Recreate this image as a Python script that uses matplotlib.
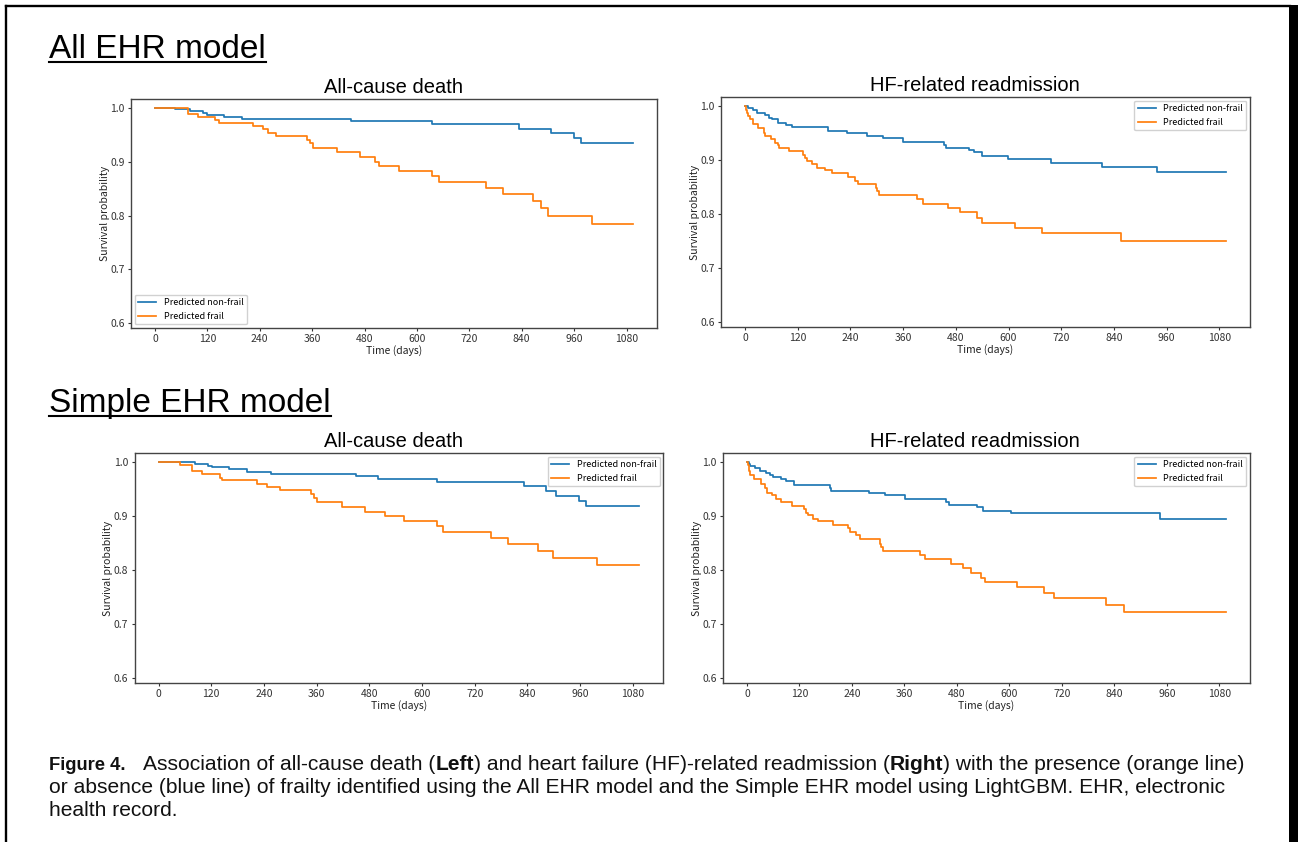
import matplotlib
matplotlib.use("Agg")
import matplotlib.pyplot as plt
from matplotlib.lines import Line2D
from matplotlib.patches import Rectangle
from matplotlib.offsetbox import TextArea, HPacker, AnnotationBbox

# ---------------- data ----------------
xticks_days = [0, 120, 240, 360, 480, 600, 720, 840, 960, 1080]
yticks_prob = [0.6, 0.7, 0.8, 0.9, 1.0]
series_labels = ["Predicted non-frail", "Predicted frail"]
panel_titles = ["All-cause death", "HF-related readmission"]
section_titles = ["All EHR model", "Simple EHR model"]

# All EHR model - all-cause death
all_death_nonfrail_t = [0, 47, 80, 110, 120, 158, 200, 450, 635, 833, 908, 959, 976, 1095]
all_death_nonfrail_s = [1.0, 0.997, 0.994, 0.991, 0.987, 0.983, 0.979, 0.975, 0.970, 0.961, 0.953, 0.944, 0.935, 0.935]
all_death_frail_t = [0, 75, 99, 138, 146, 225, 247, 258, 278, 349, 355, 361, 417, 469, 503, 514, 560, 635, 651,
                     759, 798, 866, 884, 901, 1001, 1095]
all_death_frail_s = [1.0, 0.989, 0.983, 0.977, 0.972, 0.966, 0.960, 0.954, 0.947, 0.940, 0.934, 0.926, 0.918, 0.909,
                     0.900, 0.892, 0.883, 0.873, 0.862, 0.852, 0.840, 0.827, 0.814, 0.800, 0.785, 0.785]

# All EHR model - HF-related readmission
all_readm_nonfrail_t = [0, 6, 18, 28, 46, 55, 61, 75, 94, 108, 189, 232, 278, 313, 360, 452, 457, 509, 522, 539,
                        598, 696, 813, 938, 1095]
all_readm_nonfrail_s = [1.0, 0.997, 0.993, 0.987, 0.983, 0.978, 0.975, 0.969, 0.965, 0.961, 0.954, 0.950, 0.945,
                        0.941, 0.933, 0.928, 0.923, 0.919, 0.914, 0.907, 0.902, 0.895, 0.887, 0.878, 0.878]
all_readm_frail_t = [0, 2, 4, 7, 12, 18, 30, 44, 46, 59, 69, 75, 77, 99, 132, 136, 140, 152, 164, 181, 199, 234,
                     250, 258, 299, 301, 304, 392, 405, 463, 490, 529, 539, 614, 676, 855, 1095]
all_readm_frail_s = [1.0, 0.993, 0.987, 0.981, 0.975, 0.967, 0.959, 0.950, 0.944, 0.938, 0.932, 0.927, 0.922,
                     0.916, 0.910, 0.903, 0.898, 0.892, 0.886, 0.881, 0.875, 0.869, 0.862, 0.855, 0.849, 0.843,
                     0.835, 0.828, 0.819, 0.812, 0.803, 0.793, 0.784, 0.775, 0.764, 0.750, 0.750]

# Simple EHR model - all-cause death
simple_death_nonfrail_t = [0, 84, 112, 122, 160, 202, 257, 450, 500, 635, 831, 882, 905, 958, 973, 1095]
simple_death_nonfrail_s = [1.0, 0.996, 0.993, 0.990, 0.986, 0.982, 0.978, 0.974, 0.969, 0.962, 0.955, 0.946,
                           0.937, 0.928, 0.918, 0.918]
simple_death_frail_t = [0, 49, 76, 99, 139, 145, 225, 246, 276, 348, 353, 360, 418, 470, 515, 559, 635, 647, 757,
                        796, 865, 899, 998, 1095]
simple_death_frail_s = [1.0, 0.994, 0.984, 0.977, 0.970, 0.966, 0.959, 0.953, 0.948, 0.940, 0.933, 0.925, 0.917,
                        0.908, 0.900, 0.890, 0.881, 0.871, 0.860, 0.849, 0.836, 0.823, 0.809, 0.809]

# Simple EHR model - HF-related readmission
simple_readm_nonfrail_t = [0, 4, 8, 18, 29, 44, 53, 60, 78, 90, 107, 189, 193, 279, 316, 361, 454, 462, 526, 540,
                           604, 945, 1095]
simple_readm_nonfrail_s = [1.0, 0.997, 0.993, 0.989, 0.984, 0.980, 0.975, 0.972, 0.968, 0.964, 0.958, 0.952,
                           0.947, 0.943, 0.939, 0.931, 0.926, 0.921, 0.916, 0.910, 0.905, 0.895, 0.895]
simple_readm_frail_t = [0, 2, 4, 8, 16, 31, 41, 45, 57, 67, 78, 103, 131, 136, 140, 152, 163, 197, 232, 236, 249,
                        259, 304, 306, 310, 396, 408, 466, 493, 513, 534, 544, 618, 680, 701, 820, 862, 1095]
simple_readm_frail_s = [1.0, 0.994, 0.983, 0.975, 0.968, 0.960, 0.952, 0.943, 0.938, 0.932, 0.926, 0.919, 0.913,
                        0.906, 0.901, 0.895, 0.890, 0.884, 0.878, 0.870, 0.864, 0.857, 0.849, 0.842, 0.836, 0.828,
                        0.820, 0.812, 0.803, 0.795, 0.786, 0.777, 0.768, 0.758, 0.748, 0.735, 0.722, 0.722]

# ---------------- figure ----------------
W, H = 1298, 842
fig = plt.figure(figsize=(W / 100, H / 100), dpi=100)
fig.patch.set_facecolor("white")

TICKFONT = ["Noto Sans CJK JP", "DejaVu Sans"]
SANS = ["Liberation Sans", "DejaVu Sans"]
BLUE = "#1f77b4"
ORANGE = "#ff7f0e"


def px_axes(left, top, right, bottom):
    return fig.add_axes([left / W, 1 - bottom / H, (right - left) / W, (bottom - top) / H])


def draw_panel(ax, title, title_xpx, nf_t, nf_s, fr_t, fr_s, legend_loc):
    ax.step(nf_t, nf_s, where="post", color=BLUE, lw=1.25, label=series_labels[0])
    ax.step(fr_t, fr_s, where="post", color=ORANGE, lw=1.25, label=series_labels[1])
    ax.margins(x=0.05)
    ax.set_ylim(0.591, 1.0165)
    ax.set_xticks(xticks_days)
    ax.set_yticks(yticks_prob)
    ax.set_yticklabels([f"{v:.1f}" for v in yticks_prob])
    ax.tick_params(axis="both", labelsize=7.5, length=2.5, width=0.8, pad=2.0, colors="#333333")
    for lab in ax.get_xticklabels() + ax.get_yticklabels():
        lab.set_fontfamily(TICKFONT)
    for sp in ax.spines.values():
        sp.set_color("#444444")
        sp.set_linewidth(1.0)
    ax.set_xlabel("Time (days)", fontsize=7.5, family=TICKFONT, labelpad=0.5, color="#222222")
    ax.set_ylabel("Survival probability", fontsize=7.5, family=TICKFONT, labelpad=0.5, color="#222222")
    t = ax.set_title(title, fontsize=14.5, family=SANS, pad=4)
    pos = ax.get_position()
    t.set_x((title_xpx / W - pos.x0) / pos.width)
    ax.legend(loc=legend_loc, prop={"family": TICKFONT, "size": 6.5}, framealpha=0.9,
              edgecolor="#cccccc", fancybox=True, borderaxespad=0.4)


ax1 = px_axes(131, 99, 657, 328)
ax2 = px_axes(721, 97, 1250, 327)
ax3 = px_axes(134.5, 453, 663.5, 683)
ax4 = px_axes(723, 453, 1250, 683)

draw_panel(ax1, panel_titles[0], 393, all_death_nonfrail_t, all_death_nonfrail_s,
           all_death_frail_t, all_death_frail_s, "lower left")
draw_panel(ax2, panel_titles[1], 975, all_readm_nonfrail_t, all_readm_nonfrail_s,
           all_readm_frail_t, all_readm_frail_s, "upper right")
draw_panel(ax3, panel_titles[0], 393, simple_death_nonfrail_t, simple_death_nonfrail_s,
           simple_death_frail_t, simple_death_frail_s, "upper right")
draw_panel(ax4, panel_titles[1], 975, simple_readm_nonfrail_t, simple_readm_nonfrail_s,
           simple_readm_frail_t, simple_readm_frail_s, "upper right")

# section headings with underline
renderer = fig.canvas.get_renderer()
for txt, base_y in zip(section_titles, [58, 412]):
    t = fig.text(49 / W, 1 - base_y / H, txt, fontsize=24, family=SANS, va="baseline", ha="left")
    bb = t.get_window_extent(renderer)
    uy = 1 - (base_y + 4) / H
    fig.add_artist(Line2D([bb.x0 / W, bb.x1 / W], [uy, uy], color="black", lw=1.5,
                          transform=fig.transFigure))

# caption
cap_size = 15.12
def ta(s, bold=False, size=None):
    return TextArea(s, textprops=dict(fontsize=size or cap_size, family=SANS,
                                      fontweight="bold" if bold else "normal", color="#111111"))

line1_rest = HPacker(children=[ta("Association of all-cause death ("), ta("Left", bold=True),
                               ta(") and heart failure (HF)-related readmission ("), ta("Right", bold=True),
                               ta(") with the presence (orange line)")], align="baseline", pad=0, sep=0)
line1 = HPacker(children=[ta("Figure 4.", bold=True, size=13.2), line1_rest], align="baseline", pad=0, sep=12.5)
line2 = ta("or absence (blue line) of frailty identified using the All EHR model and the Simple EHR model using "
           "LightGBM. EHR, electronic")
line3 = ta("health record.")
for box, y in zip([line1, line2, line3], [774, 797, 820]):
    ab = AnnotationBbox(box, (49 / W, 1 - y / H), xycoords="figure fraction", box_alignment=(0, 0),
                        frameon=False, pad=0)
    fig.add_artist(ab)

# outer frame
lw_frame = 1.7
fig.add_artist(Line2D([6.2 / W, 6.2 / W], [0, 1 - 5.8 / H], color="black", lw=lw_frame, transform=fig.transFigure))
fig.add_artist(Line2D([6.2 / W, 1290 / W], [1 - 5.8 / H, 1 - 5.8 / H], color="black", lw=lw_frame,
                      transform=fig.transFigure))
fig.add_artist(Rectangle((1289 / W, 0), 9 / W, 1 - 5 / H, transform=fig.transFigure, color="black", lw=0))

fig.savefig("out.png", dpi=100, facecolor="white")
